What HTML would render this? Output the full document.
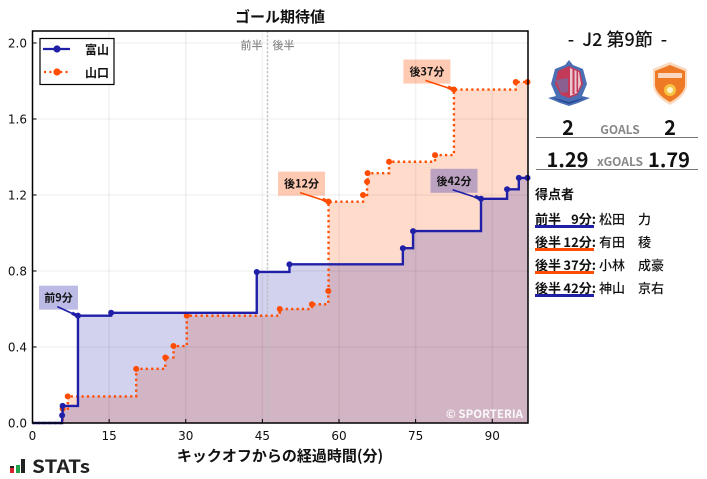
<!DOCTYPE html>
<html>
<head>
<meta charset="utf-8">
<style>
html,body{margin:0;padding:0;background:#fff;width:707px;height:479px;overflow:hidden}
svg{display:block}
text{font-family:"Noto Sans CJK JP","Liberation Sans",sans-serif}
.tick{font-family:"DejaVu Sans",sans-serif;font-size:12px;fill:#111}
.b{font-weight:700}
.m{font-weight:500}
</style>
</head>
<body>
<svg id="chart" xmlns="http://www.w3.org/2000/svg" width="707" height="479" viewBox="0 0 707 479">
  <text x="280" y="22" text-anchor="middle" class="b" font-size="15" fill="#111">ゴール期待値</text>
  <g id="plot"></g>
  <text x="280" y="461" text-anchor="middle" class="b" font-size="15" fill="#111">キックオフからの経過時間(分)</text>

  <g>
    <rect x="40" y="38.5" width="74" height="46" fill="#fff" stroke="#000" stroke-width="1.2"/>
    <line x1="43" x2="70" y1="49" y2="49" stroke="#1f1fa8" stroke-width="2.2"/>
    <circle cx="57" cy="49" r="3.6" fill="#1f1fa8"/>
    <line x1="44" x2="70" y1="72" y2="72" stroke="#ff4c00" stroke-width="2.2" stroke-dasharray="2 3.4"/>
    <circle cx="57" cy="72" r="3.6" fill="#ff4c00"/>
    <text x="85" y="54" class="b" font-size="12" fill="#111">富山</text>
    <text x="85" y="77" class="b" font-size="12" fill="#111">山口</text>
  </g>

  <g>
    <rect x="10" y="466" width="4" height="7" fill="#222"/>
    <rect x="10" y="468" width="4" height="5" fill="#d8242c"/>
    <rect x="16" y="465" width="4" height="8" fill="#1fa14a"/>
    <rect x="21" y="459" width="4" height="14" fill="#222"/>
    <text x="32" y="473" class="b" font-size="18" fill="#222" textLength="58" lengthAdjust="spacingAndGlyphs">STATs</text>
  </g>

  <g>
    <text x="617.5" y="46" text-anchor="middle" class="m" font-size="18" fill="#111" xml:space="preserve">-  J2 第9節  -</text>

    <g>
      <path d="M569 60 L573 65 L583 69 L587 84 L582 96 L590 98 L578 103 L569 106 L560 103 L548 98 L556 96 L551 84 L555 69 L565 65 Z" fill="#4a6fb5"/>
      <path d="M569 66 L580 71 L583 84 L577 95 L569 98 L561 95 L555 84 L558 71 Z" fill="#c23a58"/>
      <path d="M570 68 L579 72 L581 84 L577 93 L570 96 Z" fill="#eec6cf"/>
      <rect x="572.5" y="69" width="2" height="25" fill="#c23a58"/>
      <rect x="576.5" y="71" width="1.6" height="21" fill="#c23a58"/>
      <path d="M556 80 L568 78 L568 92 L561 93 Z" fill="#5b7fc0" opacity=".55"/>
      <path d="M551 97 L569 102 L587 97 L578 101 L569 104 L560 101 Z" fill="#274a94"/>
    </g>
    <g>
      <path d="M670 62 L687 69 L687 86 Q685 97 670 105 Q655 97 653 86 L653 69 Z" fill="#fbd9be"/>
      <path d="M670 65 L685 71 L685 86 Q683 95 670 102 Q657 95 655 86 L655 71 Z" fill="#ee7a26"/>
      <rect x="658" y="73" width="24" height="5" fill="#fff" opacity=".7"/>
      <circle cx="670" cy="90" r="6" fill="#f6c343"/>
      <circle cx="670" cy="90" r="3" fill="#fff3cf"/>
    </g>

    <text x="568" y="135" text-anchor="middle" class="b" font-size="20" fill="#111">2</text>
    <text x="620" y="134" text-anchor="middle" class="b" font-size="12" fill="#888">GOALS</text>
    <text x="670" y="135" text-anchor="middle" class="b" font-size="20" fill="#111">2</text>
    <line x1="536" x2="698" y1="137.5" y2="137.5" stroke="#777" stroke-width="1"/>

    <text x="567.5" y="167" text-anchor="middle" class="b" font-size="20" fill="#111">1.29</text>
    <text x="620" y="166" text-anchor="middle" class="b" font-size="12" fill="#888">xGOALS</text>
    <text x="669" y="167" text-anchor="middle" class="b" font-size="20" fill="#111">1.79</text>
    <line x1="536" x2="698" y1="169.5" y2="169.5" stroke="#777" stroke-width="1"/>

    <text x="535" y="199" class="b" font-size="13" fill="#111">得点者</text>

    <g>
      <text x="535" y="224" class="b" font-size="13" fill="#111">前半</text>
      <text x="596" y="224" text-anchor="end" class="b" font-size="13" fill="#111">9分:</text>
      <text x="599" y="224" class="m" font-size="13" fill="#111">松田</text>
      <text x="638" y="224" class="m" font-size="13" fill="#111">力</text>
      <rect x="535" y="225" width="59" height="3" fill="#1f1fa8"/>
    </g>
    <g>
      <text x="535" y="247" class="b" font-size="13" fill="#111">後半</text>
      <text x="596" y="247" text-anchor="end" class="b" font-size="13" fill="#111">12分:</text>
      <text x="599" y="247" class="m" font-size="13" fill="#111">有田</text>
      <text x="638" y="247" class="m" font-size="13" fill="#111">稜</text>
      <rect x="535" y="248" width="59" height="3" fill="#ff4c00"/>
    </g>
    <g>
      <text x="535" y="270" class="b" font-size="13" fill="#111">後半</text>
      <text x="596" y="270" text-anchor="end" class="b" font-size="13" fill="#111">37分:</text>
      <text x="599" y="270" class="m" font-size="13" fill="#111">小林</text>
      <text x="638" y="270" class="m" font-size="13" fill="#111">成豪</text>
      <rect x="535" y="271" width="59" height="3" fill="#ff4c00"/>
    </g>
    <g>
      <text x="535" y="293" class="b" font-size="13" fill="#111">後半</text>
      <text x="596" y="293" text-anchor="end" class="b" font-size="13" fill="#111">42分:</text>
      <text x="599" y="293" class="m" font-size="13" fill="#111">神山</text>
      <text x="638" y="293" class="m" font-size="13" fill="#111">京右</text>
      <rect x="535" y="294" width="59" height="3" fill="#1f1fa8"/>
    </g>
  </g>
</svg>
<script>
// ---- chart data ----
const xTicks = [0, 15, 30, 45, 60, 75, 90];
const yTicks = [0, 0.4, 0.8, 1.2, 1.6, 2.0];
const halfTime = 46;
const endMinute = 97;
const toyamaMinutes = [5.8, 5.9, 8.9, 15.4, 43.9, 50.3, 72.5, 74.5, 87.8, 92.9, 95.2, 96.9];
const toyamaXg = [0.04, 0.09, 0.565, 0.58, 0.795, 0.835, 0.92, 1.01, 1.18, 1.23, 1.29, 1.29];
const yamaguchiMinutes = [5.9, 6.9, 20.3, 26, 27.6, 30.2, 48.4, 54.7, 57.9, 57.95, 64.7, 65.5, 65.6, 69.8, 78.8, 82.5, 94.6, 96.9];
const yamaguchiXg = [0.075, 0.14, 0.285, 0.345, 0.405, 0.565, 0.6, 0.625, 0.695, 1.165, 1.2, 1.27, 1.315, 1.375, 1.41, 1.755, 1.795, 1.795];
const goalLabels = ["前9分", "後12分", "後37分", "後42分"];
const goalMinutes = [8.9, 57.95, 82.5, 87.8];
const goalXg = [0.565, 1.165, 1.755, 1.18];
const goalTeams = ["toyama", "yamaguchi", "yamaguchi", "toyama"];

// ---- axes ----
const left = 32.5, right = 528, top_ = 31, bottom = 423;
const sx = m => left + m * (right - left) / endMinute;
const sy = v => bottom - v * 190;
const NS = "http://www.w3.org/2000/svg";
const plot = document.getElementById("plot");
const colors = { toyama: "#1f1fa8", yamaguchi: "#ff4c00" };

function mk(tag, attrs, parent) {
  const el = document.createElementNS(NS, tag);
  for (const k in attrs) el.setAttribute(k, attrs[k]);
  (parent || plot).appendChild(el);
  return el;
}
function stepPath(mins, vals) {
  let d = "M" + sx(0) + " " + sy(0);
  let prev = 0;
  mins.forEach((m, i) => {
    d += "L" + sx(m) + " " + sy(prev) + "L" + sx(m) + " " + sy(vals[i]);
    prev = vals[i];
  });
  d += "L" + sx(endMinute) + " " + sy(prev);
  return d;
}

// series areas (orange underneath, blue on top)
function drawArea(mins, vals, color, name) {
  const a = mk("path", { d: stepPath(mins, vals) + "L" + sx(endMinute) + " " + sy(0) + "Z", fill: color, "fill-opacity": 0.2, stroke: "none" });
  
  
}
drawArea(yamaguchiMinutes, yamaguchiXg, colors.yamaguchi, 'yamaguchi-area');
drawArea(toyamaMinutes, toyamaXg, colors.toyama, 'toyama-area');

// grid
xTicks.forEach(t => {
  const g = mk("line", { x1: sx(t), x2: sx(t), y1: top_, y2: bottom, stroke: "#000", "stroke-opacity": 0.05, "stroke-width": 1.6 });
  
  
});
yTicks.forEach(t => {
  const g = mk("line", { x1: left, x2: right, y1: sy(t), y2: sy(t), stroke: "#000", "stroke-opacity": 0.05, "stroke-width": 1.6 });
  
  
});

// half-time marker
const ht = mk("line", { x1: sx(halfTime), x2: sx(halfTime), y1: top_, y2: bottom, stroke: "#bbb", "stroke-opacity": 0.8, "stroke-width": 1.6, "stroke-dasharray": "2.5 1.5" });


const h1 = mk("text", { x: sx(halfTime) - 5, y: 49, "text-anchor": "end", "font-size": 11, fill: "#888", class: "m" });
h1.textContent = "前半";


const h2 = mk("text", { x: sx(halfTime) + 5, y: 49, "font-size": 11, fill: "#888", class: "m" });
h2.textContent = "後半";



// series lines and points
function drawLine(mins, vals, color, dash, name) {
  const attrs = { d: stepPath(mins, vals), fill: "none", stroke: color, "stroke-width": 2.4 };
  if (dash) attrs["stroke-dasharray"] = dash;
  const l = mk("path", attrs);
  
  
  mins.forEach((m, i) => {
    const c = mk("circle", { cx: sx(m), cy: sy(vals[i]), r: 3, fill: color });
    
    
  });
}
drawLine(yamaguchiMinutes, yamaguchiXg, colors.yamaguchi, "2.2 3.2", 'yamaguchi');
drawLine(toyamaMinutes, toyamaXg, colors.toyama, null, 'toyama');

// goal annotations
goalLabels.forEach((label, i) => {
  const px = sx(goalMinutes[i]), py = sy(goalXg[i]);
  const w = i === 0 ? 39 : 47;
  const bx = px - w - (i === 0 ? 0 : 3.5), by = py - 30;
  const color = colors[goalTeams[i]];
  const r = mk("rect", { x: bx, y: by, width: w, height: 24, fill: color, "fill-opacity": 0.3 });
  
  
  const ax = bx + w * 0.47, ay = by + 21;
  const arrow = mk("line", { x1: ax, y1: ay, x2: px - 1, y2: py, stroke: color, "stroke-width": 1.6 });
  
  
  const head = mk("line", { x1: px - 6, y1: py - 2.5, x2: px - 1, y2: py, stroke: color, "stroke-width": 3.4 });
  
  
  const t = mk("text", { x: bx + w / 2, y: by + 16, "text-anchor": "middle", "font-size": 11, class: "b", fill: "#111" });
  t.textContent = label;
  
  
});

// watermark
const wm = mk("text", { x: 523, y: 418, "text-anchor": "end", "font-size": 11.5, class: "b", fill: "#fff", "fill-opacity": 0.9 });
wm.textContent = "© SPORTERIA";



// frame
const frame = mk("rect", { x: left, y: top_, width: right - left, height: bottom - top_, fill: "none", stroke: "#000", "stroke-width": 1.5 });



// ticks
xTicks.forEach(t => {
  const k = mk("line", { x1: sx(t), x2: sx(t), y1: bottom, y2: bottom - 4, stroke: "#000", "stroke-width": 1 });
  
  
  const lb = mk("text", { x: sx(t), y: 440, "text-anchor": "middle", class: "tick" });
  lb.textContent = t;
  
  
});
yTicks.forEach(t => {
  const k = mk("line", { x1: left, x2: left + 4, y1: sy(t), y2: sy(t), stroke: "#000", "stroke-width": 1 });
  
  
  const lb = mk("text", { x: 27, y: sy(t) + 4.5, "text-anchor": "end", class: "tick" });
  lb.textContent = t.toFixed(1);
  
  
});
</script>
</body>
</html>
